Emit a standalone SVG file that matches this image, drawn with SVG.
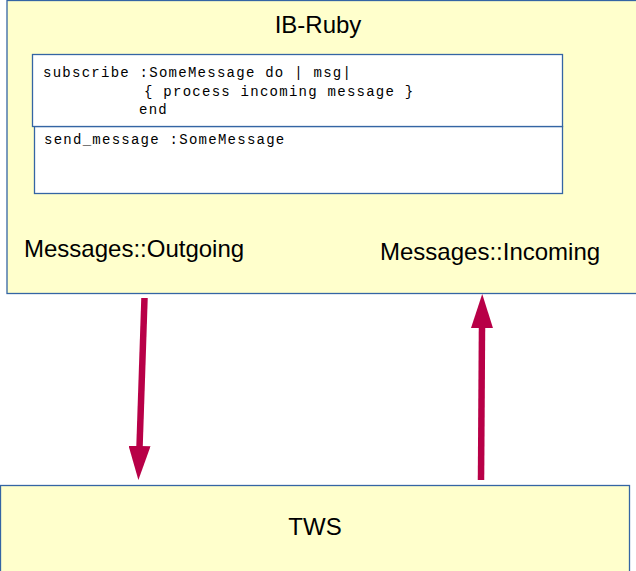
<svg xmlns="http://www.w3.org/2000/svg" width="636" height="571" viewBox="0 0 636 571">
<style>
.box{fill:#ffffcc;stroke:#3465a4;stroke-width:1.3}
.inner{fill:#ffffff;stroke:#3465a4;stroke-width:1.3}
.lbl{font-family:"Liberation Sans",Arial,sans-serif;font-size:24px;fill:#000}
.code{font-family:"Liberation Mono","Courier New",monospace;font-size:14px;letter-spacing:1.26px;fill:#000;white-space:pre}
.conn{fill:none;stroke:#b80047;stroke-width:6.5}
</style>
<defs>
<marker id="ah" markerUnits="userSpaceOnUse" markerWidth="34" markerHeight="22" viewBox="0 0 34 22" refX="1" refY="11" orient="auto">
<path d="M0,0 L34,11 L0,22 z" fill="#b80047"/>
</marker>
</defs>
<g id="ib-ruby">
<rect class="box" x="7" y="0.5" width="640" height="293"/>
<text class="lbl" x="318" y="33" text-anchor="middle">IB-Ruby</text>
<text class="lbl" x="24" y="257">Messages::Outgoing</text>
<text class="lbl" x="380" y="259.5">Messages::Incoming</text>
</g>
<g id="send-box">
<rect class="inner" x="34.5" y="126.5" width="528" height="67"/>
<text class="code" x="44" y="144">send_message :SomeMessage</text>
</g>
<g id="subscribe-box">
<rect class="inner" x="32.5" y="54.5" width="530" height="72"/>
<text class="code" x="43" y="77">subscribe :SomeMessage do | msg|</text>
<text class="code" x="144" y="95.5">{ process incoming message }</text>
<text class="code" x="139" y="114">end</text>
</g>
<g id="tws">
<rect class="box" x="0.5" y="485.5" width="629" height="100"/>
<text class="lbl" x="315" y="535" text-anchor="middle">TWS</text>
</g>
<g id="connectors">
<path class="conn" d="M144.5,298 L139.5,447" marker-end="url(#ah)"/>
<path class="conn" d="M481,480 L482,327" marker-end="url(#ah)"/>
</g>
</svg>
